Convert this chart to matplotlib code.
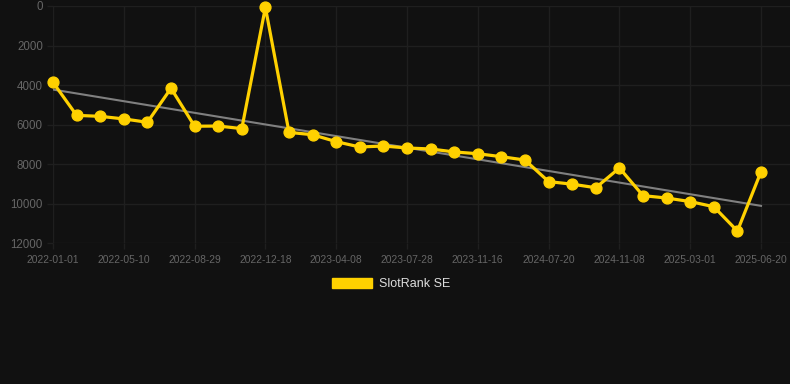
import matplotlib
matplotlib.use("Agg")
import matplotlib.pyplot as plt
from matplotlib.patches import Patch
import numpy as np

dates = ["2022-01-01", "", "", "2022-05-10", "", "", "2022-08-29", "", "", "2022-12-18",
         "", "", "2023-04-08", "", "", "2023-07-28", "", "", "2023-11-16", "", "",
         "2024-07-20", "", "", "2024-11-08", "", "", "2025-03-01", "", "", "2025-06-20"]
ranks = [3860, 5530, 5580, 5710, 5880, 4160, 6080, 6070, 6200, 70,
         6390, 6510, 6860, 7130, 7080, 7180, 7230, 7380, 7470, 7620,
         7790, 8880, 9010, 9190, 8190, 9590, 9710, 9890, 10150, 11380, 8380]
series_name = "SlotRank SE"
y_ticks = [0, 2000, 4000, 6000, 8000, 10000, 12000]

plt.rcParams['font.family'] = ['Liberation Sans', 'DejaVu Sans']
BG = "#111111"
GRID = "#1f1f1f"
GOLD = "#FFD100"

W, H = 790, 384
fig = plt.figure(figsize=(W / 100, H / 100), dpi=100, facecolor=BG)
ax = fig.add_axes([53 / W, 1 - 243.3 / H, (790 - 53) / W, (243.3 - 6) / H], facecolor=BG)

x = np.arange(len(ranks))
slope, intercept = np.polyfit(x, ranks, 1)
ax.plot(x, slope * x + intercept, color="#808080", lw=1.5, zorder=2)
ax.plot(x, ranks, color=GOLD, lw=2.3, marker="o", markersize=7.8,
        markerfacecolor=GOLD, markeredgecolor=GOLD, zorder=3, clip_on=False)

ax.set_ylim(12000, 0)
ax.set_yticks(y_ticks)
ax.set_yticklabels([str(v) for v in y_ticks])
tick_idx = [i for i, d in enumerate(dates) if d]
ax.set_xticks(tick_idx)
ax.set_xticklabels([dates[i] for i in tick_idx])
ax.set_xlim(0, 30 + 29 / 23.6)

ax.grid(True, color=GRID, lw=1)
for s in ax.spines.values():
    s.set_visible(False)
ax.tick_params(axis="both", colors=GRID, labelcolor="#666666",
               length=4.3, width=1)
ax.tick_params(axis="y", pad=3, labelsize=8.3)
ax.tick_params(axis="x", pad=4, labelsize=7.4)

handle = Patch(facecolor=GOLD, edgecolor=GOLD)
fig.legend([handle], [series_name], loc="center", bbox_to_anchor=(391 / W, 1 - 284 / H),
           frameon=False, fontsize=9, labelcolor="#dddddd",
           handlelength=3.2, handleheight=0.8, handletextpad=0.6)

fig.savefig("out.png", dpi=100, facecolor=BG)
